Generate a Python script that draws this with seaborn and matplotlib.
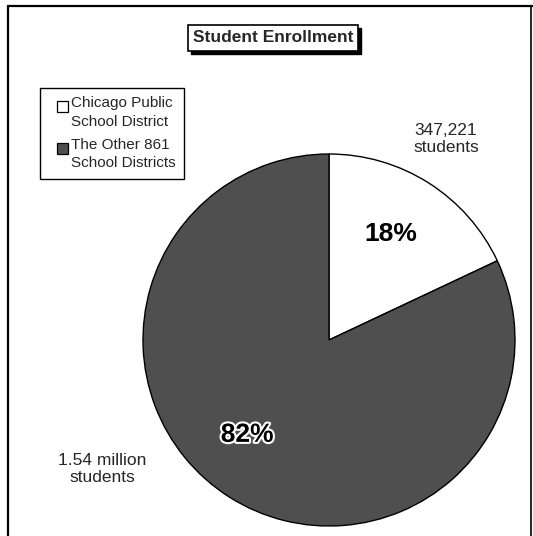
import matplotlib
matplotlib.use("Agg")
import matplotlib.pyplot as plt
import matplotlib.patheffects as pe
from matplotlib.patches import Rectangle
from matplotlib.legend_handler import HandlerPatch
import seaborn as sns

sns.set_theme(style="white")
plt.rcParams['font.family'] = ['Liberation Sans', 'DejaVu Sans']

categories = ["Chicago Public\nSchool District", "The Other 861\nSchool Districts"]
shares = [18, 82]
pct_labels = ["18%", "82%"]
count_labels = ["347,221\nstudents", "1.54 million\nstudents"]
colors = ["#ffffff", "#4f4f4f"]
title = "Student Enrollment"

W, H = 533, 536
fig = plt.figure(figsize=(W / 100, H / 100), dpi=100)
fig.patch.set_facecolor("white")

# pie axes: center (329, 340) px, radius 186 px
cx, cy, r = 329, 340, 186
ax = fig.add_axes([(cx - r) / W, (H - cy - r) / H, 2 * r / W, 2 * r / H])
wedges, _ = ax.pie(shares, colors=colors, startangle=90, counterclock=False,
                   wedgeprops=dict(edgecolor="black", linewidth=1.0))
ax.set_xlim(-1.0, 1.0)
ax.set_ylim(-1.0, 1.0)
ax.axis("off")

# percentage labels
ax.text(0.33, 0.57, pct_labels[0], fontsize=19, fontweight="bold",
        ha="center", va="center", color="black")
ax.text(-0.44, -0.51, pct_labels[1], fontsize=19, fontweight="bold",
        ha="center", va="center", color="black",
        path_effects=[pe.withStroke(linewidth=3, foreground="white")])

# count labels (figure coords)
fig.text(446 / W, 1 - 139 / H, count_labels[0], fontsize=12.5, ha="center",
         va="center", linespacing=1.15)
fig.text(102 / W, 1 - 469 / H, count_labels[1], fontsize=12.5, ha="center",
         va="center", linespacing=1.15)


# legend: small square aligned with the first line of each entry
def top_box(legend, orig_handle, xdescent, ydescent, width, height, fontsize):
    s = 0.74 * fontsize
    return Rectangle((-xdescent + width - s, -ydescent + height - s * 1.05), s, s)


leg = fig.legend(wedges, categories, loc="upper left",
                 bbox_to_anchor=(40 / W, 1 - 88 / H), frameon=True,
                 fancybox=False, framealpha=1, edgecolor="black",
                 fontsize=11, handlelength=1.3, handleheight=2.2,
                 handletextpad=0.2, borderpad=0.55, labelspacing=0.6,
                 borderaxespad=0,
                 handler_map={w: HandlerPatch(patch_func=top_box) for w in wedges})
leg.get_frame().set_linewidth(1.0)
for h in leg.legend_handles:
    h.set_edgecolor("black")
    h.set_linewidth(0.9)
for t in leg.get_texts():
    t.set_linespacing(1.4)

# title box with shadow
tx0, ty0, tx1, ty1 = 188, 25, 358, 51
fig.patches.append(Rectangle((tx0 / W + 2.5 / W, 1 - (ty1 + 2.5) / H),
                             (tx1 - tx0) / W, (ty1 - ty0) / H,
                             transform=fig.transFigure, facecolor="black",
                             edgecolor="black", zorder=1))
fig.patches.append(Rectangle((tx0 / W, 1 - ty1 / H), (tx1 - tx0) / W,
                             (ty1 - ty0) / H, transform=fig.transFigure,
                             facecolor="white", edgecolor="black",
                             linewidth=1.2, zorder=2))
fig.text((tx0 + tx1) / 2 / W, 1 - (ty0 + ty1) / 2 / H, title, fontsize=12.5,
         fontweight="bold", ha="center", va="center", zorder=3)

# outer frame
fig.add_artist(plt.Line2D([8 / W, 8 / W], [0, 1 - 6 / H], color="black",
                          linewidth=1.6, transform=fig.transFigure))
fig.add_artist(plt.Line2D([8 / W, 1], [1 - 6 / H, 1 - 6 / H], color="black",
                          linewidth=1.6, transform=fig.transFigure))
fig.add_artist(plt.Line2D([531 / W, 531 / W], [0, 1 - 6 / H], color="black",
                          linewidth=1.2, transform=fig.transFigure))

fig.savefig("out.png", dpi=100)
